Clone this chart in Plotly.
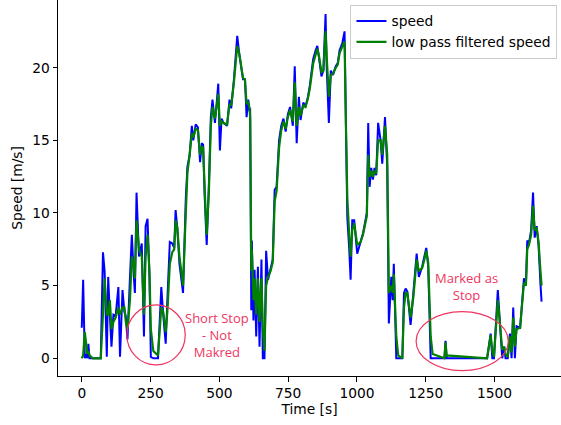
import plotly.graph_objects as go

time_s = [0, 5, 11, 16, 20, 24, 28, 40, 69, 77, 83, 91, 96, 102, 108, 115, 123, 133, 139, 148,
          155, 160, 166, 175, 182, 188, 193, 199, 208, 214, 218, 226, 232, 239, 246, 251, 260, 277,
          289, 296, 305, 311, 320, 329, 336, 341, 347, 355, 368, 378, 384, 392, 400, 405, 414, 422,
          430, 436, 441, 447, 454, 462, 469, 475, 484, 490, 496, 502, 508, 515, 528, 537, 543, 553,
          565, 572, 578, 586, 593, 599, 605, 610, 612, 614, 616, 618, 624, 628, 634, 640, 646, 653,
          658, 664, 670, 677, 686, 694, 701, 708, 717, 725, 733, 741, 749, 757, 767, 774, 781, 789,
          795, 805, 813, 822, 829, 841, 850, 856, 862, 871, 878, 886, 890, 896, 898, 905, 913, 923,
          930, 937, 947, 955, 960, 965, 972, 977, 983, 990, 1001, 1013, 1022, 1031, 1036, 1041, 1046,
          1052, 1058, 1064, 1070, 1077, 1086, 1092, 1102, 1110, 1116, 1125, 1130, 1134, 1143, 1150,
          1165, 1171, 1177, 1183, 1195, 1205, 1212, 1217, 1225, 1237, 1245, 1252, 1259, 1268, 1275,
          1318, 1322, 1326, 1473, 1486, 1492, 1498, 1512, 1522, 1528, 1535, 1540, 1548, 1556, 1562,
          1568, 1574, 1580, 1593, 1601, 1607, 1614, 1619, 1625, 1633, 1640, 1646, 1653, 1660, 1667,
          1671]

speed = [2.1, 5.4, 0.0, 0.3, 0.0, 1.0, 0.0, 0.0, 0.0, 7.3, 6.0, 0.1, 5.6, 3.0, 0.8, 3.0, 2.9, 4.9, 0.1, 4.7,
         3.2, 2.9, 1.3, 5.5, 8.5, 6.0, 4.5, 11.4, 7.0, 7.5, 7.9, 1.5, 9.1, 9.6, 5.6, 0.1, 0.0, 0.0,
         4.9, 3.0, 1.0, 4.0, 8.0, 7.9, 7.6, 10.2, 9.0, 6.5, 4.5, 11.0, 13.2, 14.0, 16.0, 15.0, 16.1, 15.9,
         13.5, 14.8, 14.7, 11.0, 7.8, 12.0, 16.6, 17.8, 16.2, 17.5, 18.9, 14.3, 16.5, 16.2, 16.0, 17.8, 17.2, 19.2,
         22.2, 21.0, 20.1, 19.2, 19.2, 16.6, 17.8, 17.0, 17.2, 8.1, 3.3, 8.1, 2.6, 6.1, 1.5, 6.3, 0.8, 6.8,
         0.0, 0.0, 7.4, 5.4, 6.1, 6.8, 11.6, 11.8, 15.0, 16.0, 16.5, 15.6, 16.8, 17.3, 16.0, 20.1, 14.8, 18.0,
         16.4, 17.6, 17.3, 18.0, 18.8, 20.6, 21.2, 21.5, 20.7, 19.4, 19.8, 23.7, 20.1, 17.8, 16.2, 19.8, 19.5, 20.1,
         20.3, 21.2, 21.7, 22.5, 15.0, 9.7, 7.5, 5.4, 9.5, 9.5, 7.2, 8.1, 8.6, 9.5, 10.0, 16.2, 11.8,
         13.1, 12.3, 13.1, 12.6, 16.2, 15.0, 13.4, 16.6, 13.2, 2.4, 5.6, 4.0, 6.5, 0.0, 0.0,
         0.0, 4.5, 4.8, 4.6, 2.3, 4.5, 6.0, 7.2, 5.6, 6.3, 7.0, 7.6, 6.3, 0.0, 0.0,
         0.0, 1.2, 0.0, 0.0, 1.7, 0.0, 0.0, 4.7, 1.7, 0.0, 0.8, 0.0, 0.0, 1.7, 0.0,
         3.5, 0.0, 2.2, 2.1, 3.9, 5.5, 5.0, 8.1, 7.9, 8.8, 11.4, 8.3, 9.1, 7.8, 5.1,
         3.9]

filtered = [0.0, 0.2, 1.8, 0.8, 0.3, 0.5, 0.2, 0.0, 0.0, 3.0, 5.5, 3.0, 3.0, 4.0, 2.0, 2.5, 2.8, 3.5, 3.0, 3.5,
            3.5, 2.5, 2.0, 4.0, 7.0, 6.5, 5.5, 9.5, 7.5, 7.2, 7.0, 3.0, 7.0, 8.5, 6.0, 2.0, 0.5, 0.2,
            3.5, 3.2, 1.8, 3.2, 6.5, 7.3, 7.5, 9.5, 9.0, 7.0, 5.0, 10.0, 12.8, 14.0, 15.5, 15.2, 15.8, 15.7,
            14.0, 14.6, 14.5, 11.5, 8.5, 11.5, 16.0, 17.3, 16.5, 17.3, 18.2, 16.0, 16.3, 16.2, 16.1, 17.5, 17.4, 19.0,
            21.5, 21.0, 20.3, 19.3, 19.2, 17.5, 17.6, 17.2, 16.5, 10.0, 6.0, 7.5, 4.0, 5.5, 3.0, 5.5, 2.5, 5.5,
            2.0, 0.5, 5.0, 5.6, 6.0, 6.6, 10.8, 11.5, 14.5, 15.7, 16.3, 15.8, 16.6, 17.1, 16.3, 19.0, 16.0, 17.3,
            16.7, 17.4, 17.3, 17.9, 18.6, 20.3, 21.0, 21.3, 20.8, 19.7, 19.8, 22.5, 20.8, 19.0, 18.0, 19.5, 19.6, 20.0,
            20.2, 21.0, 21.5, 21.8, 16.0, 11.0, 8.5, 7.0, 8.8, 9.3, 7.8, 8.0, 8.5, 9.3, 9.8, 14.0, 12.5,
            12.9, 12.5, 12.9, 12.7, 15.0, 15.0, 14.0, 16.0, 14.0, 4.5, 5.0, 4.5, 5.8, 1.5, 0.2,
            0.0, 3.5, 4.5, 4.5, 2.8, 4.2, 5.5, 6.8, 6.0, 6.2, 6.8, 7.4, 6.6, 1.5, 0.3,
            0.0, 1.1, 0.2, 0.0, 1.6, 0.5, 0.1, 4.0, 2.0, 0.6, 0.8, 0.3, 0.1, 1.5, 0.4,
            2.8, 0.8, 2.0, 2.1, 3.6, 5.2, 5.0, 7.5, 7.8, 8.5, 10.5, 8.8, 9.0, 8.0, 6.0,
            5.0]

x_ticks = [0, 250, 500, 750, 1000, 1250, 1500]
y_ticks = [0, 5, 10, 15, 20]

ann_color = "#ee3560"
font_main = "DejaVu Sans"
fs = 13.8

fig = go.Figure()
fig.add_trace(go.Scatter(x=time_s, y=speed, mode="lines", name="speed",
                         line=dict(color="blue", width=2)))
fig.add_trace(go.Scatter(x=time_s, y=filtered, mode="lines", name="low pass filtered speed",
                         line=dict(color="green", width=2.2)))

fig.add_shape(type="circle", xref="x", yref="y", x0=164, x1=376, y0=-0.46, y1=3.67,
              line=dict(color=ann_color, width=1.2))
fig.add_shape(type="circle", xref="x", yref="y", x0=1215, x1=1550, y0=-0.85, y1=3.21,
              line=dict(color=ann_color, width=1.2))

fig.add_annotation(x=492, y=1.6, xref="x", yref="y", text="Short Stop<br>- Not<br>Makred",
                   showarrow=False, font=dict(family="Open Sans", size=13, color=ann_color),
                   align="center")
fig.add_annotation(x=1397, y=4.94, xref="x", yref="y", text="Marked as<br>Stop",
                   showarrow=False, font=dict(family="Open Sans", size=13, color=ann_color),
                   align="center")

fig.update_layout(
    width=561, height=425,
    margin=dict(l=58, r=0, t=0, b=49),
    paper_bgcolor="white", plot_bgcolor="white",
    font=dict(family=font_main, size=fs, color="black"),
    showlegend=True,
    legend=dict(x=0.993, y=0.988, xanchor="right", yanchor="top",
                bgcolor="rgba(255,255,255,0.8)", bordercolor="#cccccc", borderwidth=1,
                font=dict(size=fs), tracegroupgap=0),
    xaxis=dict(range=[-86.4, 1741.6], tickvals=x_ticks, ticks="outside", ticklen=4.5,
               tickcolor="black", showline=True, linecolor="black", linewidth=1,
               tickfont=dict(size=fs),
               showgrid=False, zeroline=False,
               title=dict(text="Time [s]", standoff=4, font=dict(size=fs))),
    yaxis=dict(range=[-1.22, 24.66], tickvals=y_ticks, ticks="outside", ticklen=4.5,
               tickcolor="black", showline=True, linecolor="black", linewidth=1,
               tickfont=dict(size=fs),
               showgrid=False, zeroline=False,
               title=dict(text="Speed [m/s]", standoff=6, font=dict(size=fs))),
)

fig.write_html("out.html")
